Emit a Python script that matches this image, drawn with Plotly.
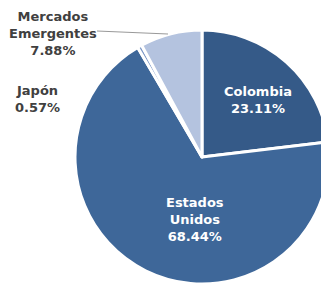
import plotly.graph_objects as go

labels = ["Colombia", "Estados Unidos", "Japón", "Mercados Emergentes"]
values = [23.11, 68.44, 0.57, 7.88]
display_names = ["Colombia", "Estados<br>Unidos", "Japón", "Mercados<br>Emergentes"]
colors = ["#355a88", "#3e6799", "#7b97c6", "#b4c3df"]

# page has an 8px body margin; work in figure coordinates
OFF = 8
W, H = 329 - OFF, 286 - OFF

fig = go.Figure()
fig.add_trace(go.Pie(
    labels=labels,
    values=values,
    sort=False,
    direction="clockwise",
    rotation=0,
    marker=dict(colors=colors, line=dict(color="white", width=3)),
    textinfo="none",
    hoverinfo="label+percent",
    showlegend=False,
    domain=dict(x=[67 / W, 1.0], y=[2 / H, 256 / H]),
))

font_in = dict(family="DejaVu Sans", size=13, color="white", weight="bold")
font_out = dict(family="DejaVu Sans", size=13, color="#404040", weight="bold")
label_pos = [(258, 100, font_in), (195, 219, font_in), (37, 99, font_out), (53, 33, font_out)]
for i, (x, y, f) in enumerate(label_pos):
    fig.add_annotation(x=x - OFF, y=y - OFF, xref="x", yref="y", showarrow=False,
                       text=f"{display_names[i]}<br>{values[i]:.2f}%", font=f, align="center")
fig.add_shape(type="line", x0=97 - OFF, y0=31 - OFF, x1=168 - OFF, y1=34 - OFF,
              xref="x", yref="y", line=dict(color="#999999", width=1))

fig.update_layout(
    width=W, height=H,
    margin=dict(l=0, r=0, t=0, b=0),
    paper_bgcolor="white", plot_bgcolor="rgba(0,0,0,0)",
    xaxis=dict(range=[0, W], visible=False, fixedrange=True),
    yaxis=dict(range=[H, 0], visible=False, fixedrange=True),
)
fig.write_html("out.html")
